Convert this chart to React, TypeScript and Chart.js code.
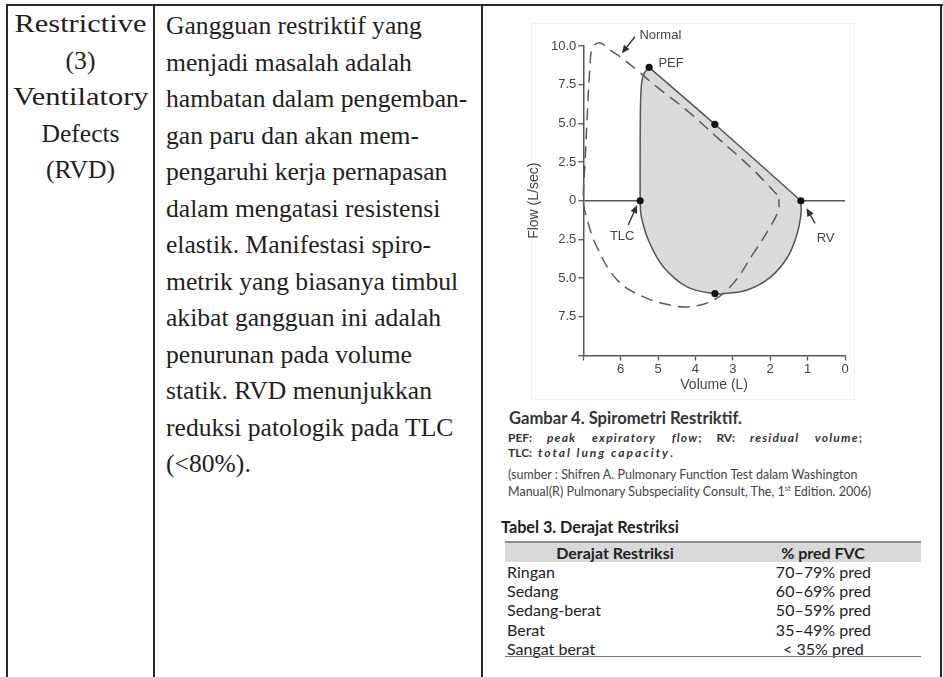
import React, { useEffect, useRef } from 'react';
import { Chart, registerables } from 'chart.js';

Chart.register(...registerables);

// ---- Chart data (volume in L, flow in L/sec) ----
const restrictiveVolume = [5.48, 5.48, 5.47, 5.44, 5.38, 5.24, 5.24, 3.48, 1.18, 1.18, 1.18, 1.3, 1.55, 2.0, 2.6, 3.2, 3.48, 4.2, 4.85, 5.25, 5.45, 5.48];
const restrictiveFlow = [0, 3.0, 6.2, 7.6, 8.2, 8.62, 8.62, 4.94, 0, 0, -0.9, -2.3, -3.7, -4.95, -5.75, -6.0, -6.0, -5.6, -4.3, -2.6, -1.0, 0];

const normalVolume = [1.82, 2.1, 2.54, 3.34, 4.24, 5.04, 5.57, 6.02, 6.29, 6.55, 6.75, 6.82, 6.9, 6.95, 7.0, 6.9, 6.64, 6.1, 5.4, 4.68, 4.15, 3.52, 2.99, 2.45, 2.0, 1.78, 1.77];
const normalFlow = [0.4, 1.12, 2.2, 3.92, 5.86, 7.37, 8.45, 9.31, 9.74, 10.2, 9.9, 8.7, 5.2, 2.6, 0, -1.2, -2.97, -5.1, -6.2, -6.74, -6.85, -6.42, -5.34, -3.4, -1.68, -0.6, 0.1];

const markerVolume = [5.48, 5.24, 3.48, 1.18, 3.48];
const markerFlow = [0, 8.62, 4.94, 0, -6.0];

const volumeTicks = [0, 1, 2, 3, 4, 5, 6, 7];
const flowTicks = [-10, -7.5, -5, -2.5, 0, 2.5, 5, 7.5, 10];

const labelTexts = ['Normal', 'PEF', 'TLC', 'RV'];
const labelVolume = [5.5, 4.99, 5.96, 0.52];
const labelFlow = [10.7, 8.88, -2.33, -2.43];
const labelAlign = ['left', 'left', 'center', 'center'];

// arrows: from (volume, flow) to (volume, flow)
const arrowFromVolume = [5.62, 5.8, 0.8];
const arrowFromFlow = [10.6, -1.57, -1.46];
const arrowToVolume = [5.97, 5.56, 1.03];
const arrowToFlow = [9.53, -0.28, -0.49];

// ---- Text content ----
const leftCellLines = ['Restrictive', '(3)', 'Ventilatory', 'Defects', '(RVD)'];
const leftCellWide = [true, false, true, false, false];
const descLines = [
  'Gangguan restriktif yang',
  'menjadi masalah adalah',
  'hambatan dalam pengemban-',
  'gan paru dan akan mem-',
  'pengaruhi kerja pernapasan',
  'dalam mengatasi resistensi',
  'elastik. Manifestasi spiro-',
  'metrik yang biasanya timbul',
  'akibat gangguan ini adalah',
  'penurunan pada volume',
  'statik. RVD menunjukkan',
  'reduksi patologik pada TLC',
  '(<80%).',
];
const restrictionGrades = ['Ringan', 'Sedang', 'Sedang-berat', 'Berat', 'Sangat berat'];
const predFvc = ['70–79% pred', '60–69% pred', '50–59% pred', '35–49% pred', '< 35% pred'];

const AXIS_FONT = '"Liberation Sans", Arial, Helvetica, sans-serif';
const INK = '#444';

const annotationPlugin = {
  id: 'spiroAnnotations',
  afterDatasetsDraw(chart: any) {
    const { ctx } = chart;
    const xs = chart.scales.x;
    const ys = chart.scales.y;
    ctx.save();
    ctx.font = `13px ${AXIS_FONT}`;
    ctx.fillStyle = INK;
    ctx.textBaseline = 'middle';
    labelTexts.forEach((t, i) => {
      ctx.textAlign = labelAlign[i];
      ctx.fillText(t, xs.getPixelForValue(labelVolume[i]), ys.getPixelForValue(labelFlow[i]));
    });
    ctx.strokeStyle = '#333';
    ctx.fillStyle = '#333';
    ctx.lineWidth = 1.4;
    arrowFromVolume.forEach((_, i) => {
      const x1 = xs.getPixelForValue(arrowFromVolume[i]);
      const y1 = ys.getPixelForValue(arrowFromFlow[i]);
      const x2 = xs.getPixelForValue(arrowToVolume[i]);
      const y2 = ys.getPixelForValue(arrowToFlow[i]);
      const ang = Math.atan2(y2 - y1, x2 - x1);
      const hl = 8;
      const hw = 3.6;
      const c = Math.cos(ang);
      const s = Math.sin(ang);
      ctx.beginPath();
      ctx.moveTo(x1, y1);
      ctx.lineTo(x2 - hl * 0.7 * c, y2 - hl * 0.7 * s);
      ctx.stroke();
      ctx.beginPath();
      ctx.moveTo(x2, y2);
      ctx.lineTo(x2 - hl * c + hw * s, y2 - hl * s - hw * c);
      ctx.lineTo(x2 - hl * c - hw * s, y2 - hl * s + hw * c);
      ctx.closePath();
      ctx.fill();
    });
    ctx.restore();
  },
};

function SpiroChart() {
  const ref = useRef<HTMLCanvasElement | null>(null);
  useEffect(() => {
    if (!ref.current) return;
    const chart = new Chart(ref.current, {
      type: 'scatter',
      data: {
        datasets: [
          {
            label: 'Titik',
            data: markerVolume.map((v, i) => ({ x: v, y: markerFlow[i] })),
            showLine: false,
            pointRadius: 3.6,
            pointBackgroundColor: '#111',
            pointBorderColor: '#111',
            pointBorderWidth: 0,
          },
          {
            label: 'Normal',
            data: normalVolume.map((v, i) => ({ x: v, y: normalFlow[i] })),
            showLine: true,
            fill: false,
            borderColor: '#5a5a5a',
            borderWidth: 1.5,
            borderDash: [12, 7],
            pointRadius: 0,
            tension: 0.4,
            clip: false,
          },
          {
            label: 'Restriktif',
            data: restrictiveVolume.map((v, i) => ({ x: v, y: restrictiveFlow[i] })),
            showLine: true,
            fill: 'shape',
            backgroundColor: '#dadada',
            borderColor: '#555',
            borderWidth: 1.5,
            pointRadius: 0,
            tension: 0.35,
          },
        ],
      } as any,
      options: {
        responsive: false,
        animation: false,
        layout: { padding: { left: 0, right: 20, top: 26, bottom: 0 } },
        plugins: { legend: { display: false }, tooltip: { enabled: false } },
        scales: {
          x: {
            type: 'linear',
            min: volumeTicks[0],
            max: volumeTicks[volumeTicks.length - 1],
            reverse: true,
            afterBuildTicks: (scale: any) => {
              scale.ticks = volumeTicks.map((v) => ({ value: v }));
            },
            ticks: {
              autoSkip: false,
              maxRotation: 0,
              padding: 1,
              color: INK,
              font: { family: AXIS_FONT, size: 13 },
              callback: (v: any) => (v === 7 ? '' : String(v)),
            },
            grid: { drawOnChartArea: false, tickLength: 5, tickColor: '#555', tickWidth: 1.3 },
            border: { color: '#555', width: 1.5 },
            title: {
              display: true,
              text: 'Volume (L)',
              color: INK,
              font: { family: AXIS_FONT, size: 14 },
              padding: { top: 0, bottom: 6.6 },
            },
            afterFit: (scale: any) => {
              scale.height = 44.5;
            },
          },
          y: {
            type: 'linear',
            min: flowTicks[0],
            max: flowTicks[flowTicks.length - 1],
            z: 1,
            afterBuildTicks: (scale: any) => {
              scale.ticks = flowTicks.map((v) => ({ value: v }));
            },
            ticks: {
              autoSkip: false,
              padding: 2,
              color: INK,
              font: { family: AXIS_FONT, size: 13 },
              callback: (v: any) => (v === -10 ? '' : v === 0 ? '0' : Math.abs(v).toFixed(1)),
            },
            grid: {
              color: (c: any) => (c.tick && c.tick.value === 0 ? '#555' : 'rgba(0,0,0,0)'),
              lineWidth: 1.5,
              tickLength: 5,
              tickColor: '#555',
              tickWidth: 1.3,
            },
            border: { color: '#555', width: 1.5 },
            title: {
              display: true,
              text: 'Flow (L/sec)',
              color: INK,
              font: { family: AXIS_FONT, size: 14 },
              padding: { top: 6, bottom: 0 },
            },
            afterFit: (scale: any) => {
              scale.width = 63.3;
            },
          },
        },
      } as any,
      plugins: [annotationPlugin],
    });
    return () => chart.destroy();
  }, []);
  return (
    <canvas
      ref={ref}
      width={345}
      height={380}
      style={{ position: 'absolute', left: 520, top: 20, width: 345, height: 380 }}
    />
  );
}

const SERIF = '"Liberation Serif", "Times New Roman", Times, serif';
const SANS = 'Lato, "Open Sans", sans-serif';
const LINE = 36.5;

function line(style: React.CSSProperties): React.CSSProperties {
  return { position: 'absolute', background: '#262626', ...style };
}

export default function App() {
  return (
    <div
      style={{
        position: 'absolute',
        left: 0,
        top: 0,
        width: 943,
        height: 677,
        overflow: 'hidden',
        background: '#fff',
        color: '#1e1e1e',
      }}
    >
      {/* table borders */}
      <div style={line({ left: 6, top: 4, width: 937, height: 2 })} />
      <div style={line({ left: 6, top: 4, width: 2, height: 673 })} />
      <div style={line({ left: 153, top: 4, width: 2, height: 673 })} />
      <div style={line({ left: 481, top: 4, width: 2, height: 673 })} />
      <div style={line({ left: 940, top: 4, width: 2, height: 673 })} />

      {/* left cell */}
      <div
        style={{
          position: 'absolute',
          left: 8,
          top: 24.5 - LINE / 2,
          width: 145,
          fontFamily: SERIF,
          fontSize: 25.6,
          lineHeight: `${LINE}px`,
          textAlign: 'center',
        }}
      >
        {leftCellLines.map((t, i) => (
          <div key={i} style={{ height: LINE }}>
            <span
              style={{
                display: 'inline-block',
                transform: leftCellWide[i] ? 'scaleX(1.19)' : 'none',
                transformOrigin: 'center',
              }}
            >
              {t}
            </span>
          </div>
        ))}
      </div>

      {/* description cell */}
      <div
        style={{
          position: 'absolute',
          left: 166,
          top: 26.7 - LINE / 2,
          width: 310,
          whiteSpace: 'nowrap',
          fontFamily: SERIF,
          fontSize: 25.6,
          lineHeight: `${LINE}px`,
        }}
      >
        {descLines.map((t, i) => (
          <div key={i}>{t}</div>
        ))}
      </div>

      {/* figure frame */}
      <div
        style={{
          position: 'absolute',
          left: 531,
          top: 23,
          width: 322,
          height: 375,
          border: '1px solid #f1f1f1',
        }}
      />
      <SpiroChart />

      {/* caption */}
      <div
        style={{
          position: 'absolute',
          left: 509,
          top: 418 - 10,
          height: 20,
          lineHeight: '20px',
          fontFamily: SANS,
          fontWeight: 700,
          fontSize: 16.6,
          color: '#333',
          whiteSpace: 'nowrap',
        }}
      >
        Gambar 4. Spirometri Restriktif.
      </div>
      <div
        style={{
          position: 'absolute',
          left: 508,
          top: 437 - 7.5,
          width: 354,
          lineHeight: '15px',
          fontFamily: SANS,
          fontWeight: 700,
          fontSize: 12,
          color: '#333',
          textAlign: 'justify',
          textAlignLast: 'justify',
        }}
      >
        PEF: <i style={{ letterSpacing: 1.2 }}>peak expiratory flow</i>; RV: <i style={{ letterSpacing: 1.2 }}>residual volume</i>;
      </div>
      <div
        style={{
          position: 'absolute',
          left: 508,
          top: 452 - 7.5,
          lineHeight: '15px',
          fontFamily: SANS,
          fontWeight: 700,
          fontSize: 12,
          color: '#333',
          whiteSpace: 'pre',
        }}
      >
        {'TLC: '}
        <i style={{ letterSpacing: 2, marginLeft: 3 }}>total lung capacity</i>.
      </div>
      <div
        style={{
          position: 'absolute',
          left: 508,
          top: 474 - 8.5,
          width: 362,
          lineHeight: '17px',
          fontFamily: SANS,
          fontSize: 12.5,
          color: '#444',
          whiteSpace: 'nowrap',
        }}
      >
        <div>(sumber : Shifren A. Pulmonary Function Test dalam Washington</div>
        <div>
          Manual(R) Pulmonary Subspeciality Consult, The, 1<sup style={{ fontSize: 7.5, lineHeight: 0 }}>st</sup> Edition. 2006)
        </div>
      </div>

      {/* table 3 */}
      <div
        style={{
          position: 'absolute',
          left: 501,
          top: 527 - 10,
          lineHeight: '20px',
          fontFamily: SANS,
          fontWeight: 700,
          fontSize: 16.2,
          color: '#222',
          whiteSpace: 'nowrap',
        }}
      >
        Tabel 3. Derajat Restriksi
      </div>
      <div style={{ position: 'absolute', left: 505, top: 542, width: 416, height: 20, background: '#d9d9d9' }} />
      <div style={{ position: 'absolute', left: 505, top: 540.5, width: 416, height: 2.5, background: '#8a8a8a' }} />
      <div
        style={{
          position: 'absolute',
          left: 505,
          top: 542,
          width: 416,
          height: 20,
          display: 'flex',
          fontFamily: SANS,
          fontWeight: 700,
          fontSize: 16,
          lineHeight: '21px',
          color: '#222',
        }}
      >
        <div style={{ width: 220, textAlign: 'center' }}>Derajat Restriksi</div>
        <div style={{ width: 196, textAlign: 'center' }}>% pred FVC</div>
      </div>
      {restrictionGrades.map((g, i) => (
        <div
          key={g}
          style={{
            position: 'absolute',
            left: 505,
            top: 562 + i * 19.2,
            width: 416,
            height: 19.2,
            display: 'flex',
            fontFamily: SANS,
            fontSize: 16,
            lineHeight: '19.2px',
            color: '#222',
          }}
        >
          <div style={{ width: 220, paddingLeft: 2 }}>{g}</div>
          <div style={{ width: 196, textAlign: 'center' }}>{predFvc[i]}</div>
        </div>
      ))}
      <div style={{ position: 'absolute', left: 505, top: 655.5, width: 416, height: 1.5, background: '#777' }} />
    </div>
  );
}
